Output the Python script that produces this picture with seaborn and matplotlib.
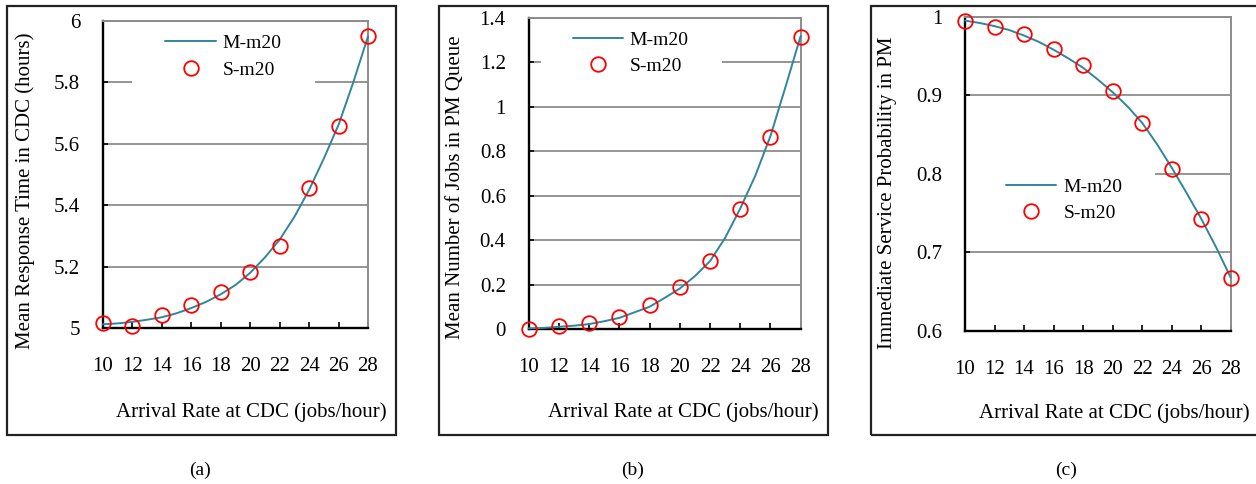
import matplotlib
matplotlib.use("Agg")
import matplotlib.pyplot as plt
import seaborn as sns
import pandas as pd
from matplotlib.patches import Rectangle

# ---------------- data ----------------
x_model = list(range(10, 29))
x_sim = [10, 12, 14, 16, 18, 20, 22, 24, 26, 28]

# (a) Mean response time in CDC (hours)
a_model = [5.012, 5.015, 5.020, 5.027, 5.035, 5.048, 5.065, 5.085, 5.110, 5.140,
           5.180, 5.230, 5.288, 5.362, 5.450, 5.552, 5.662, 5.800, 5.950]
a_sim = [5.017, 5.005, 5.043, 5.075, 5.116, 5.181, 5.267, 5.455, 5.658, 5.951]

# (b) Mean number of jobs in PM queue
b_model = [0.003, 0.005, 0.010, 0.015, 0.022, 0.035, 0.050, 0.075, 0.100, 0.140,
           0.182, 0.238, 0.305, 0.410, 0.542, 0.690, 0.868, 1.090, 1.318]
b_sim = [0.000, 0.015, 0.025, 0.055, 0.108, 0.187, 0.306, 0.538, 0.863, 1.314]

# (c) Immediate service probability in PM
c_model = [0.995, 0.992, 0.988, 0.983, 0.976, 0.968, 0.958, 0.947, 0.935, 0.920,
           0.904, 0.886, 0.865, 0.838, 0.808, 0.776, 0.743, 0.707, 0.668]
c_sim = [0.994, 0.987, 0.978, 0.959, 0.938, 0.905, 0.865, 0.806, 0.743, 0.668]

x_ticks = [10, 12, 14, 16, 18, 20, 22, 24, 26, 28]
a_yticks = [5, 5.2, 5.4, 5.6, 5.8, 6]
a_yticklabels = ["5", "5.2", "5.4", "5.6", "5.8", "6"]
b_yticks = [0, 0.2, 0.4, 0.6, 0.8, 1.0, 1.2, 1.4]
b_yticklabels = ["0", "0.2", "0.4", "0.6", "0.8", "1", "1.2", "1.4"]
c_yticks = [0.6, 0.7, 0.8, 0.9, 1.0]
c_yticklabels = ["0.6", "0.7", "0.8", "0.9", "1"]

model_label = "M-m20"
sim_label = "S-m20"
x_title = "Arrival Rate at CDC (jobs/hour)"
a_ytitle = "Mean Response Time in CDC (hours)"
b_ytitle = "Mean Number of Jobs in PM Queue"
c_ytitle = "Immediate Service Probability in PM"
captions = ["(a)", "(b)", "(c)"]

# ---------------- style ----------------
sns.set_theme(style="white")
plt.rcParams["font.family"] = ["Liberation Serif", "DejaVu Serif"]
plt.rcParams["text.color"] = "black"
plt.rcParams["axes.labelcolor"] = "black"
plt.rcParams["xtick.color"] = "black"
plt.rcParams["ytick.color"] = "black"

W, H = 1256, 484
fig = plt.figure(figsize=(W / 100, H / 100), dpi=100)

LINE_C = "#31859C"
GRID_C = "#8C8C8C"
FS = 15
LFS = 14

panels = [
    dict(px=(103, 21, 368, 328), model=a_model, sim=a_sim, ylim=(5, 6),
         yticks=a_yticks, ylabels=a_yticklabels, ytitle=a_ytitle,
         ylab_xy=(-0.292, 0.447), xlab_xy=(1.0717, -0.2726),
         leg=(0.455, 0.884), legrect=(0.109, 0.75, 0.691, 0.235),
         box=(6.7, 6.3, 396, 435), cap=(200, 470)),
    dict(px=(528.7, 17.7, 800.7, 329), model=b_model, sim=b_sim, ylim=(0, 1.4),
         yticks=b_yticks, ylabels=b_yticklabels, ytitle=b_ytitle,
         ylab_xy=(-0.268, 0.4545), xlab_xy=(1.0647, -0.2676),
         leg=(0.375, 0.886), legrect=(0.044, 0.74, 0.667, 0.235),
         box=(439, 6.3, 828, 435), cap=(632.7, 470)),
    dict(px=(965, 16.7, 1230.7, 331), model=c_model, sim=c_sim, ylim=(0.6, 1.0),
         yticks=c_yticks, ylabels=c_yticklabels, ytitle=c_ytitle,
         ylab_xy=(-0.291, 0.4407), xlab_xy=(1.070, -0.262),
         leg=(0.373, 0.4168), legrect=(0.004, 0.305, 0.711, 0.223),
         box=(870.7, 6.3, 1300, 435), cap=(1065.7, 470)),
]

for i, p in enumerate(panels):
    x0, y0, x1, y1 = p["px"]
    ax = fig.add_axes([x0 / W, 1 - y1 / H, (x1 - x0) / W, (y1 - y0) / H])
    ax.set_axisbelow(True)

    df_m = pd.DataFrame({"x": x_model, "y": p["model"]})
    df_s = pd.DataFrame({"x": x_sim, "y": p["sim"]})
    sns.lineplot(data=df_m, x="x", y="y", ax=ax, color=LINE_C, lw=1.4,
                 label=model_label, zorder=3, clip_on=False)
    sns.lineplot(data=df_s, x="x", y="y", ax=ax, color="red", linestyle="",
                 marker="o", markersize=10.5, markerfacecolor="none",
                 markeredgecolor="red", markeredgewidth=1.3,
                 label=sim_label, zorder=4, clip_on=False)

    ax.set_xlim(10, 28)
    ax.set_ylim(*p["ylim"])
    ax.set_xticks(x_ticks)
    ax.set_xticklabels([str(v) for v in x_ticks], fontsize=FS)
    ax.set_yticks(p["yticks"])
    ax.set_yticklabels(p["ylabels"], fontsize=FS)

    ax.yaxis.grid(True, color=GRID_C, lw=1.3)
    ax.xaxis.grid(False)

    ax.tick_params(axis="x", direction="in", length=4.5, width=1.2,
                   color="black", pad=21.0, bottom=True)
    ax.tick_params(axis="y", direction="in", length=3.8, width=1.2,
                   color="black", pad=16.5, left=True)

    for side in ("left", "bottom"):
        ax.spines[side].set_color("black")
        ax.spines[side].set_linewidth(1.7)
    for side in ("top", "right"):
        ax.spines[side].set_color(GRID_C)
        ax.spines[side].set_linewidth(1.4)

    ax.set_xlabel(x_title, fontsize=FS, ha="right", va="center")
    ax.xaxis.set_label_coords(*p["xlab_xy"])
    ax.set_ylabel(p["ytitle"], fontsize=FS, ha="center", va="center")
    ax.yaxis.set_label_coords(*p["ylab_xy"])

    # white legend background (covers gridline, no frame)
    lx, ly, lw_, lh = p["legrect"]
    ax.add_patch(Rectangle((lx, ly), lw_, lh, transform=ax.transAxes,
                           facecolor="white", edgecolor="none", zorder=1))
    ax.legend(loc="center", bbox_to_anchor=p["leg"], frameon=False,
              fontsize=LFS, handlelength=2.6, handletextpad=0.35,
              labelspacing=0.45, borderpad=0.2)

    bx0, by0, bx1, by1 = p["box"]
    fig.add_artist(Rectangle((bx0 / W, 1 - by1 / H), (bx1 - bx0) / W,
                             (by1 - by0) / H, transform=fig.transFigure,
                             fill=False, edgecolor="#222222", lw=1.6))
    cx, cy = p["cap"]
    fig.text(cx / W, 1 - cy / H, captions[i], ha="center", va="center",
             fontsize=14)

fig.savefig("out.png", dpi=100)
